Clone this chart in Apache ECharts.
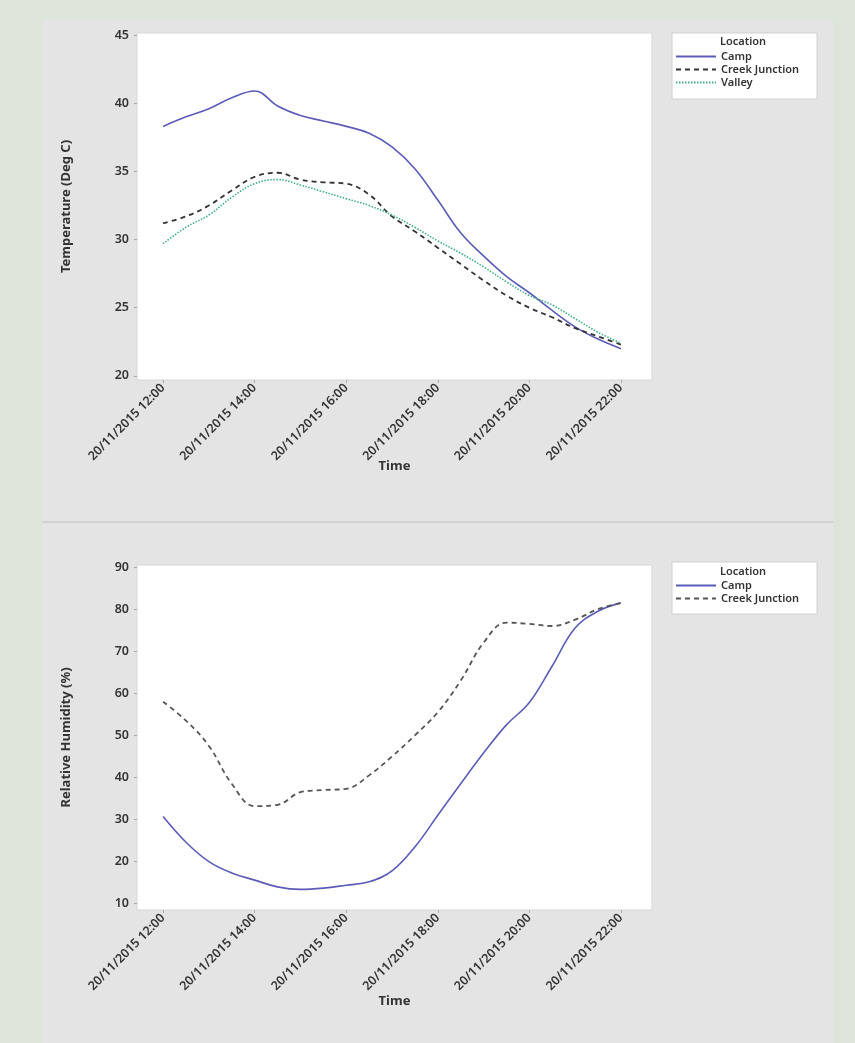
<!DOCTYPE html>
<html>
<head>
<meta charset="utf-8">
<script src="https://cdn.jsdelivr.net/npm/echarts@6/dist/echarts.min.js"></script>
<style>
  html, body { margin: 0; padding: 0; background: #dde5db; }
  #main { width: 855px; height: 1043px; }
</style>
</head>
<body>
<div id="main"></div>
<script>
// time of day in hours, one reading every 30 minutes
var hours = [12, 12.5, 13, 13.5, 14, 14.5, 15, 15.5, 16, 16.5, 17, 17.5, 18, 18.5, 19, 19.5, 20, 20.5, 21, 21.5, 22];
var tickHours = [12, 14, 16, 18, 20, 22];
var tickLabels = ['20/11/2015 12:00', '20/11/2015 14:00', '20/11/2015 16:00', '20/11/2015 18:00', '20/11/2015 20:00', '20/11/2015 22:00'];

// temperature (Deg C)
var tempCamp   = [38.3, 39.0, 39.6, 40.4, 40.9, 39.8, 39.1, 38.7, 38.3, 37.8, 36.8, 35.2, 32.9, 30.5, 28.8, 27.3, 26.1, 24.8, 23.6, 22.7, 22.0];
var tempCreek  = [31.2, 31.7, 32.5, 33.6, 34.6, 34.9, 34.4, 34.2, 34.1, 33.3, 31.7, 30.6, 29.4, 28.2, 27.0, 25.9, 25.0, 24.3, 23.5, 22.9, 22.3];
var tempValley = [29.7, 30.9, 31.8, 33.1, 34.1, 34.4, 34.0, 33.5, 33.0, 32.5, 31.8, 30.9, 29.9, 29.0, 28.0, 26.9, 25.9, 25.2, 24.2, 23.2, 22.4];
var tempTicks  = [20, 25, 30, 35, 40, 45];

// relative humidity (%)
var humCamp  = [30.7, 24.6, 20.0, 17.3, 15.6, 14.0, 13.4, 13.7, 14.4, 15.2, 17.8, 23.5, 31.0, 38.5, 45.8, 52.5, 57.8, 66.5, 75.5, 79.5, 81.5];
var humCreek = [58.0, 53.5, 47.5, 38.5, 33.2, 33.5, 36.5, 37.0, 37.3, 40.5, 45.0, 50.0, 55.5, 63.0, 72.0, 76.8, 76.5, 76.0, 77.5, 80.0, 81.5];
var humTicks = [10, 20, 30, 40, 50, 60, 70, 80, 90];

function pairs(vals) {
    return hours.map(function (h, i) { return [h, vals[i]]; });
}

var font = 'Noto Sans';
var txt = '#333';

function xAxisFor(gridIndex, gap) {
    return {
        type: 'value',
        gridIndex: gridIndex,
        min: 11.43,
        max: 22.68,
        name: 'Time',
        nameLocation: 'middle',
        nameGap: gap,
        nameMoveOverlap: false,
        nameTextStyle: { fontFamily: font, fontSize: 13, fontWeight: 'bold', color: txt },
        axisLine: { show: false },
        splitLine: { show: false },
        axisTick: { show: true, length: 3, lineStyle: { color: '#aaa' }, customValues: tickHours },
        axisLabel: {
            rotate: 45,
            margin: 6,
            fontFamily: font, fontSize: 12.5, fontWeight: 600, color: txt,
            customValues: tickHours,
            formatter: function (v) { return tickLabels[tickHours.indexOf(v)]; }
        }
    };
}

function yAxisFor(gridIndex, name, min, max, ticks) {
    return {
        type: 'value',
        gridIndex: gridIndex,
        min: min,
        max: max,
        name: name,
        nameLocation: 'middle',
        nameGap: 64,
        nameMoveOverlap: false,
        nameTextStyle: { fontFamily: font, fontSize: 13, fontWeight: 'bold', color: txt },
        axisLine: { show: false },
        splitLine: { show: false },
        axisTick: { show: true, length: 3, lineStyle: { color: '#aaa' }, customValues: ticks },
        axisLabel: { margin: 8, fontFamily: font, fontSize: 12.5, fontWeight: 600, color: txt, customValues: ticks }
    };
}

var campColor = '#5c5cb8';
var creekColor = '#333333';
var valleyColor = '#3fae86';

var chart = echarts.init(document.getElementById('main'));

var legendBase = {
    orient: 'vertical', left: 675, padding: 0, itemGap: 2,
    itemWidth: 40, itemHeight: 12,
    itemStyle: { opacity: 0 },
    textStyle: { fontFamily: font, fontSize: 11, fontWeight: 600, color: txt }
};

var option = {
    animation: false,
    graphic: [
        { type: 'rect', shape: { x: 42, y: 20, width: 791, height: 1030 }, style: { fill: '#e4e4e4' }, z: -10 },
        { type: 'line', shape: { x1: 42, y1: 522, x2: 833, y2: 522 }, style: { stroke: '#d2d2d2', lineWidth: 2 }, z: -9 },
        { type: 'rect', shape: { x: 672, y: 33, width: 145, height: 66 }, style: { fill: '#fff', stroke: '#d0d0d0' }, z: -5 },
        { type: 'text', x: 743, y: 42, style: { text: 'Location', fontFamily: font, fontSize: 11, fontWeight: 600, fill: txt, align: 'center', verticalAlign: 'middle' } },
        { type: 'rect', shape: { x: 672, y: 562, width: 145, height: 52 }, style: { fill: '#fff', stroke: '#d0d0d0' }, z: -5 },
        { type: 'text', x: 743, y: 572, style: { text: 'Location', fontFamily: font, fontSize: 11, fontWeight: 600, fill: txt, align: 'center', verticalAlign: 'middle' } }
    ],
    legend: [
        Object.assign({}, legendBase, { top: 51, data: ['Camp', 'Creek Junction', 'Valley'] }),
        Object.assign({}, legendBase, { top: 580, data: ['Camp ', 'Creek Junction '] })
    ],
    grid: [
        { left: 137, top: 33, width: 515, height: 347, show: true, backgroundColor: '#fff', borderColor: '#d6d6d6', borderWidth: 1 },
        { left: 137, top: 565, width: 515, height: 345, show: true, backgroundColor: '#fff', borderColor: '#d6d6d6', borderWidth: 1 }
    ],
    xAxis: [xAxisFor(0, 80), xAxisFor(1, 85)],
    yAxis: [
        yAxisFor(0, 'Temperature (Deg C)', 19.7, 45.15, tempTicks),
        yAxisFor(1, 'Relative Humidity (%)', 8.5, 90.5, humTicks)
    ],
    series: [
        { name: 'Camp', type: 'line', xAxisIndex: 0, yAxisIndex: 0, smooth: 0.4, symbol: 'none',
          lineStyle: { color: campColor, width: 1.6 }, itemStyle: { color: campColor }, data: pairs(tempCamp) },
        { name: 'Creek Junction', type: 'line', xAxisIndex: 0, yAxisIndex: 0, smooth: 0.4, symbol: 'none',
          lineStyle: { color: creekColor, width: 1.8, type: [5, 4] }, itemStyle: { color: creekColor }, data: pairs(tempCreek) },
        { name: 'Valley', type: 'line', xAxisIndex: 0, yAxisIndex: 0, smooth: 0.4, symbol: 'none',
          lineStyle: { color: valleyColor, width: 1.6, type: [1.5, 1.5] }, itemStyle: { color: valleyColor }, data: pairs(tempValley) },
        { name: 'Camp ', type: 'line', xAxisIndex: 1, yAxisIndex: 1, smooth: 0.4, symbol: 'none',
          lineStyle: { color: campColor, width: 1.6 }, itemStyle: { color: campColor }, data: pairs(humCamp) },
        { name: 'Creek Junction ', type: 'line', xAxisIndex: 1, yAxisIndex: 1, smooth: 0.4, symbol: 'none',
          lineStyle: { color: '#555', width: 1.8, type: [5, 4] }, itemStyle: { color: '#555' }, data: pairs(humCreek) }
    ]
};

chart.setOption(option);
</script>
</body>
</html>
